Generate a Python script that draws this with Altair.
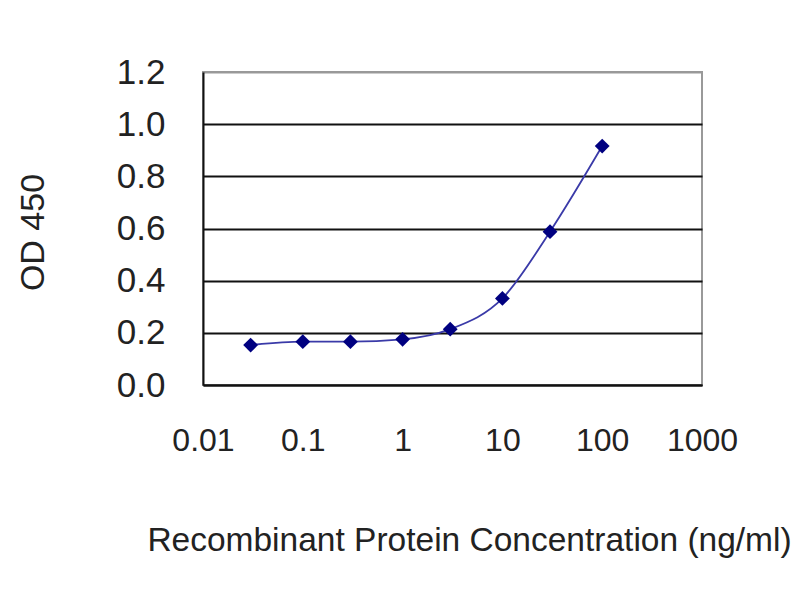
import altair as alt
import pandas as pd

# ELISA standard curve: concentration (ng/ml) vs OD 450
conc = [0.03, 0.1, 0.3, 1, 3, 10, 30, 100]
od450 = [0.153, 0.166, 0.166, 0.175, 0.214, 0.332, 0.588, 0.916]
x_ticks = [0.01, 0.1, 1, 10, 100, 1000]
y_ticks = [0.0, 0.2, 0.4, 0.6, 0.8, 1.0, 1.2]

df = pd.DataFrame({"conc": conc, "od": od450})

FONT = "Liberation Sans"

x_enc = alt.X(
    "conc:Q",
    scale=alt.Scale(type="log", domain=[0.01, 1000], nice=False),
    axis=alt.Axis(
        values=x_ticks, format="~g", grid=False, ticks=False, tickSize=0,
        labelFontSize=32, labelPadding=55, labelBaseline="middle",
        labelFlush=False, labelOverlap=False,
        labelColor="#222", labelFont=FONT,
        domainColor="#111", domainWidth=2,
        title="Recombinant Protein Concentration (ng/ml)",
        titleFontSize=33.5, titleFontWeight="normal", titleFont=FONT,
        titleColor="#222", titleX=266, titleY=155, titleBaseline="middle",
    ),
)
y_enc = alt.Y(
    "od:Q",
    scale=alt.Scale(domain=[0, 1.2], nice=False),
    axis=alt.Axis(
        values=y_ticks, format=".1f", ticks=False, tickSize=0,
        labelFontSize=35, labelPadding=38, labelColor="#222", labelFont=FONT,
        domainColor="#111", domainWidth=2,
        gridColor=alt.condition("datum.value >= 1.1", alt.value("#999999"), alt.value("#111111")),
        gridWidth=2,
        title="OD 450", titleFontSize=34, titleFontWeight="normal", titleFont=FONT,
        titleColor="#222", titleX=-170, titleY=160, titleBaseline="middle",
    ),
)

base = alt.Chart(df).encode(x=x_enc, y=y_enc)

curve = base.mark_line(color="#3a3aa8", strokeWidth=1.8, interpolate="monotone")
points = base.mark_point(shape="diamond", filled=True, color="#000080", size=220, opacity=1)

chart = (
    (curve + points)
    .properties(
        width=499, height=313,
        autosize=alt.AutoSizeParams(type="none"),
        padding={"left": 195, "top": 64, "right": 90, "bottom": 207},
        background="white",
    )
    .configure_view(stroke="#999999", strokeWidth=2)
)

chart.save("out.html", embed_options={"renderer": "svg", "actions": False})
